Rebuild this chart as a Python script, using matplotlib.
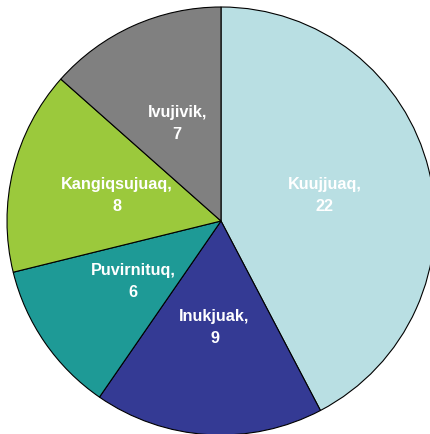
import matplotlib
matplotlib.use("Agg")
import matplotlib.pyplot as plt

communities = ["Kuujjuaq", "Inukjuak", "Puvirnituq", "Kangiqsujuaq", "Ivujivik"]
counts = [22, 9, 6, 8, 7]
colours = ["#B9DFE3", "#343A94", "#1E9A96", "#9BC93C", "#808080"]


def main():
    fig = plt.figure(figsize=(4.31, 4.34), dpi=100)
    ax = fig.add_axes([0, 0, 1, 1])

    labels = [name + ",\n" + str(n) for name, n in zip(communities, counts)]
    wedges, texts = ax.pie(counts, labels=labels, colors=colours,
                           startangle=90, counterclock=False,
                           labeldistance=0.5,
                           wedgeprops={"edgecolor": "black", "linewidth": 0.8})
    for t in texts:
        t.set_color("white")
        t.set_fontweight("bold")
        t.set_fontsize(11.7)
        t.set_fontfamily("Liberation Sans")
        t.set_horizontalalignment("center")
        t.set_verticalalignment("center")
        t.set_multialignment("center")
        t.set_linespacing(1.6)

    # centre of the pie sits at (221, 221) px, radius about 214 px
    r = 214.0
    ax.set_xlim(-221 / r, (431 - 221) / r)
    ax.set_ylim(-(434 - 221) / r, 221 / r)
    ax.set_aspect("equal")
    ax.axis("off")

    fig.savefig("out.png", dpi=100)


main()
